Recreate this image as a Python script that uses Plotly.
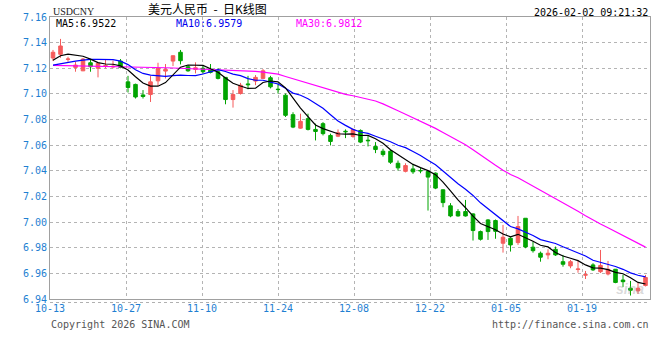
import plotly.graph_objects as go

# ---------------- data ----------------
dates = [
    "2025-10-13", "2025-10-14", "2025-10-15", "2025-10-16", "2025-10-17",
    "2025-10-20", "2025-10-21", "2025-10-22", "2025-10-23", "2025-10-24",
    "2025-10-27", "2025-10-28", "2025-10-29", "2025-10-30", "2025-10-31",
    "2025-11-03", "2025-11-04", "2025-11-05", "2025-11-06", "2025-11-07",
    "2025-11-10", "2025-11-11", "2025-11-12", "2025-11-13", "2025-11-14",
    "2025-11-17", "2025-11-18", "2025-11-19", "2025-11-20", "2025-11-21",
    "2025-11-24", "2025-11-25", "2025-11-26", "2025-11-27", "2025-11-28",
    "2025-12-01", "2025-12-02", "2025-12-03", "2025-12-04", "2025-12-05",
    "2025-12-08", "2025-12-09", "2025-12-10", "2025-12-11", "2025-12-12",
    "2025-12-15", "2025-12-16", "2025-12-17", "2025-12-18", "2025-12-19",
    "2025-12-22", "2025-12-23", "2025-12-24", "2025-12-25", "2025-12-26",
    "2025-12-29", "2025-12-30", "2025-12-31", "2026-01-01", "2026-01-02",
    "2026-01-05", "2026-01-06", "2026-01-07", "2026-01-08", "2026-01-09",
    "2026-01-12", "2026-01-13", "2026-01-14", "2026-01-15", "2026-01-16",
    "2026-01-19", "2026-01-20", "2026-01-21", "2026-01-22", "2026-01-23",
    "2026-01-26", "2026-01-27", "2026-01-28", "2026-01-29", "2026-01-30",
]

opens = [7.1280, 7.1309, 7.1270, 7.1207, 7.1180, 7.1243, 7.1200, 7.1218, 7.1210, 7.1256,
         7.1094, 7.1074, 7.0992, 7.0995, 7.1102, 7.1178, 7.1256, 7.1325, 7.1212, 7.1191,
         7.1200, 7.1191, 7.1173, 7.1129, 7.0956, 7.1003, 7.1078, 7.1100, 7.1121, 7.1126,
         7.1037, 7.0990, 7.0838, 7.0733, 7.0807, 7.0723, 7.0768, 7.0676, 7.0670, 7.0709,
         7.0668, 7.0715, 7.0639, 7.0590, 7.0553, 7.0553, 7.0459, 7.0396, 7.0415, 7.0403,
         7.0395, 7.0382, 7.0252, 7.0127, 7.0082, 7.0082, 7.0064, 6.9926, 7.0017, 7.0012,
         6.9835, 6.9874, 6.9840, 7.0030, 6.9804, 6.9757, 6.9744, 6.9788, 6.9691, 6.9658,
         6.9630, 6.9586, 6.9666, 6.9613, 6.9595, 6.9632, 6.9548, 6.9484, 6.9463, 6.9505]

highs = [7.1343, 7.1429, 7.1290, 7.1251, 7.1280, 7.1272, 7.1246, 7.1272, 7.1260, 7.1272,
         7.1141, 7.1080, 7.1030, 7.1139, 7.1243, 7.1233, 7.1300, 7.1343, 7.1225, 7.1246,
         7.1217, 7.1233, 7.1200, 7.1130, 7.1030, 7.1086, 7.1141, 7.1147, 7.1194, 7.1141,
         7.1082, 7.1003, 7.0857, 7.0846, 7.0846, 7.0768, 7.0780, 7.0690, 7.0723, 7.0723,
         7.0729, 7.0723, 7.0676, 7.0624, 7.0572, 7.0564, 7.0480, 7.0459, 7.0454, 7.0423,
         7.0400, 7.0387, 7.0257, 7.0148, 7.0101, 7.0173, 7.0069, 6.9934, 7.0023, 7.0020,
         6.9978, 6.9882, 7.0048, 7.0030, 6.9848, 6.9770, 6.9788, 6.9809, 6.9744, 6.9705,
         6.9705, 6.9619, 6.9679, 6.9783, 6.9697, 6.9634, 6.9588, 6.9541, 6.9525, 6.9588]

lows = [7.1256, 7.1282, 7.1251, 7.1173, 7.1178, 7.1173, 7.1129, 7.1200, 7.1200, 7.1200,
        7.1011, 7.0964, 7.0964, 7.0937, 7.1063, 7.1120, 7.1217, 7.1230, 7.1173, 7.1160,
        7.1160, 7.1160, 7.1113, 7.0919, 7.0893, 7.0995, 7.1036, 7.1068, 7.1120, 7.1043,
        7.1003, 7.0820, 7.0733, 7.0728, 7.0715, 7.0637, 7.0676, 7.0598, 7.0663, 7.0655,
        7.0658, 7.0616, 7.0590, 7.0538, 7.0511, 7.0454, 7.0402, 7.0388, 7.0376, 7.0381,
        7.0090, 7.0257, 7.0116, 7.0038, 7.0043, 7.0043, 6.9856, 6.9856, 6.9861, 6.9870,
        6.9762, 6.9770, 6.9822, 6.9796, 6.9762, 6.9691, 6.9710, 6.9736, 6.9652, 6.9640,
        6.9605, 6.9556, 6.9619, 6.9603, 6.9584, 6.9523, 6.9494, 6.9427, 6.9439, 6.9498]

closes = [7.1325, 7.1374, 7.1272, 7.1225, 7.1272, 7.1212, 7.1238, 7.1220, 7.1215, 7.1207,
          7.1050, 7.0976, 7.0980, 7.1094, 7.1200, 7.1191, 7.1298, 7.1259, 7.1180, 7.1204,
          7.1173, 7.1168, 7.1121, 7.0956, 7.0995, 7.1068, 7.1072, 7.1129, 7.1180, 7.1055,
          7.1034, 7.0833, 7.0741, 7.0786, 7.0723, 7.0707, 7.0690, 7.0629, 7.0697, 7.0705,
          7.0723, 7.0624, 7.0635, 7.0566, 7.0527, 7.0467, 7.0423, 7.0441, 7.0392, 7.0400,
          7.0351, 7.0265, 7.0152, 7.0048, 7.0048, 7.0048, 6.9934, 6.9866, 6.9926, 6.9928,
          6.9882, 6.9822, 6.9965, 6.9806, 6.9777, 6.9726, 6.9757, 6.9744, 6.9671, 6.9691,
          6.9634, 6.9590, 6.9627, 6.9662, 6.9632, 6.9529, 6.9535, 6.9468, 6.9484, 6.9568]

# moving-average values at the start of the window (read from the chart,
# they depend on closes before the first bar shown)
ma5_head = [7.1262, 7.1298, 7.1310, 7.1303]
ma10_head = [7.1225, 7.1237, 7.1249, 7.1256, 7.1264, 7.1270, 7.1270, 7.1270, 7.1268]
ma30_head = [7.1223, 7.1222, 7.1221, 7.1220, 7.1219, 7.1219, 7.1218, 7.1217, 7.1216, 7.1215,
             7.1213, 7.1212, 7.1210, 7.1208, 7.1206, 7.1204, 7.1202, 7.1200, 7.1198, 7.1196,
             7.1194, 7.1192, 7.1189, 7.1186, 7.1184, 7.1182, 7.1180, 7.1176, 7.1170]

ma_legend = ["MA5:6.9522", "MA10:6.9579", "MA30:6.9812"]
y_ticks = [6.94, 6.96, 6.98, 7.00, 7.02, 7.04, 7.06, 7.08, 7.10, 7.12, 7.14, 7.16]
label_bars = [0, 10, 20, 30, 40, 50, 60, 70]

title_text = "美元人民币\u00a0\u00a0-\u00a0\u00a0日K线图"
symbol_text = "USDCNY"
stamp_text = "2026-02-02 09:21:32"
copy_text = "Copyright 2026 SINA.COM"
url_text = "http://finance.sina.com.cn"
mark_text = "<b><i>sina</i></b>"


def moving_avg(vals, n, head):
    out = list(head)
    for i in range(n - 1, len(vals)):
        out.append(sum(vals[i - n + 1:i + 1]) / n)
    return out


ma5 = moving_avg(closes, 5, ma5_head)
ma10 = moving_avg(closes, 10, ma10_head)
ma30 = moving_avg(closes, 30, ma30_head)

# ---------------- styling ----------------
W, H = 660, 360
ML, MR, MT, MB = 50, 10, 17, 61
PW, PH = W - ML - MR, H - MT - MB
RED = "#f55b5b"
GREEN = "#00a400"
TICK_BLUE = "#1f7fd2"
MONO = "DejaVu Sans Mono"

def px(x):
    return (x - ML) / PW

def py(y):
    return (H - MB - y) / PH

x = list(range(len(dates)))
x0 = -0.4
bar_px = 7.5
tick_pos = [x0 + k * 76 / bar_px for k in range(len(label_bars))]
tick_txt = [dates[b][5:] for b in label_bars]

fig = go.Figure()
fig.add_trace(go.Candlestick(
    x=x, open=opens, high=highs, low=lows, close=closes,
    increasing=dict(line=dict(color=RED, width=1), fillcolor=RED),
    decreasing=dict(line=dict(color=GREEN, width=1), fillcolor=GREEN),
    whiskerwidth=0, hoverinfo="skip", showlegend=False,
))
for ys, col in [(ma30, "#ff00ff"), (ma10, "#0000ff"), (ma5, "#000000")]:
    fig.add_trace(go.Scatter(x=x, y=ys, mode="lines",
                             line=dict(color=col, width=1.2),
                             hoverinfo="skip", showlegend=False))

ann = []
ann.append(dict(text=symbol_text, x=px(51), y=py(11), xanchor="left", yanchor="middle",
                font=dict(family="Liberation Serif", size=10, color="#222")))
ann.append(dict(text=title_text, x=px(208), y=py(9), xanchor="center", yanchor="middle",
                font=dict(family="Noto Sans CJK SC", size=12, color="#000")))
ann.append(dict(text=stamp_text, x=px(650), y=py(12), xanchor="right", yanchor="middle",
                font=dict(family=MONO, size=10, color="#000")))
for txt, xl, col in zip(ma_legend, [54, 174, 294], ["#000000", "#0000ee", "#ff00ff"]):
    ann.append(dict(text=txt, x=px(xl), y=py(24), xanchor="left", yanchor="middle",
                    font=dict(family=MONO, size=10, color=col)))
ann.append(dict(text=copy_text, x=px(49), y=py(324), xanchor="left", yanchor="middle",
                font=dict(family=MONO, size=10, color="#555")))
ann.append(dict(text=url_text, x=px(651), y=py(324), xanchor="right", yanchor="middle",
                font=dict(family=MONO, size=10, color="#555")))
ann.append(dict(text=mark_text, x=px(630), y=py(289), xanchor="center", yanchor="middle",
                font=dict(family="Liberation Sans", size=14, color="rgba(150,150,150,0.35)")))
for a in ann:
    a.update(xref="paper", yref="paper", showarrow=False)

fig.update_layout(
    width=W, height=H,
    margin=dict(l=ML, r=MR, t=MT, b=MB, autoexpand=False),
    paper_bgcolor="white", plot_bgcolor="white",
    showlegend=False, boxgap=0.32,
    annotations=ann,
    shapes=[dict(type="line", xref="paper", yref="paper", x0=0, x1=1,
                 y0=py(302.5), y1=py(302.5),
                 line=dict(color="#b0b0b0", width=1, dash="dot"))],
    xaxis=dict(range=[x0, x0 + 80], tickmode="array", tickvals=tick_pos, ticktext=tick_txt,
               showgrid=True, gridcolor="#b4b4b4", griddash="dot", gridwidth=1,
               showline=True, linecolor="#a0a0a0", linewidth=1, mirror=True,
               zeroline=False, ticks="", rangeslider=dict(visible=False), automargin=False,
               tickfont=dict(family=MONO, size=10, color=TICK_BLUE)),
    yaxis=dict(range=[6.94, 7.16], tickmode="array", tickvals=y_ticks,
               ticktext=[f"{v:.2f}" for v in y_ticks],
               showgrid=True, gridcolor="#b4b4b4", griddash="dot", gridwidth=1,
               showline=True, linecolor="#a0a0a0", linewidth=1, mirror=True,
               zeroline=False, ticks="", automargin=False,
               tickfont=dict(family=MONO, size=10, color=TICK_BLUE)),
)

fig.write_html(
    "out.html",
    config={"displayModeBar": False},
    post_script="document.body.style.margin='0';document.body.style.padding='0';",
)
